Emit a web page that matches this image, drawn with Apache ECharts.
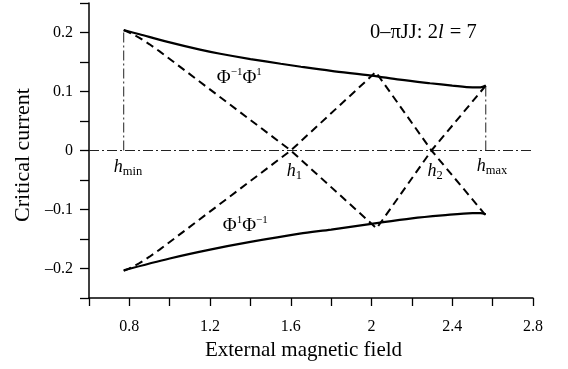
<!DOCTYPE html>
<html>
<head>
<meta charset="utf-8">
<script src="https://cdn.jsdelivr.net/npm/echarts@6/dist/echarts.min.js"></script>
<style>
  html, body { margin: 0; padding: 0; background: #fff; }
  #chart { width: 568px; height: 369px; }
</style>
</head>
<body>
<div id="chart"></div>
<script>
// Characteristic field values on the h axis
const hMin = 0.772;
const hMax = 2.566;
const h1 = 1.600;
const h2 = 2.297;

// Envelope of the critical current (solid curves)
const upperBranch = [
  [0.772, 0.204], [0.85, 0.197], [0.98, 0.185], [1.15, 0.171], [1.25, 0.164],
  [1.40, 0.155], [1.55, 0.147], [1.65, 0.142], [1.80, 0.135], [2.00, 0.127],
  [2.14, 0.120], [2.29, 0.114], [2.40, 0.110], [2.50, 0.107], [2.54, 0.107],
  [2.566, 0.110]
];
const lowerBranch = [
  [0.772, -0.203], [1.00, -0.183], [1.20, -0.168], [1.40, -0.155], [1.644, -0.141],
  [1.80, -0.134], [2.025, -0.123], [2.20, -0.115], [2.35, -0.110], [2.50, -0.106],
  [2.54, -0.106], [2.566, -0.108]
];

// Mode branches (dashed): Φ^-1Φ^1 and Φ^1Φ^-1
const modeA = [
  [0.772, 0.204], [0.80, 0.200], [0.85, 0.191], [0.90, 0.180], [0.95, 0.168],
  [1.600, 0], [2.025, -0.132], [2.297, 0], [2.566, 0.110]
];
const modeB = [
  [0.772, -0.204], [0.80, -0.200], [0.85, -0.191], [0.90, -0.180], [0.95, -0.168],
  [1.600, 0], [2.021, 0.133], [2.297, 0], [2.566, -0.110]
];

// Axis ranges and ticks
const xMin = 0.6, xMax = 2.8, xStep = 0.2;
const yMin = -0.25, yMax = 0.25, yStep = 0.05;

const FONT = '"Liberation Serif", "Times New Roman", serif';
const chart = echarts.init(document.getElementById('chart'), null, { renderer: 'canvas' });

const dashDot = [10, 3, 2, 3];

chart.setOption({
  animation: false,
  backgroundColor: '#fff',
  grid: { left: 89, right: 35, top: 3, bottom: 71 },
  xAxis: {
    type: 'value', min: xMin, max: xMax, interval: xStep,
    name: 'External magnetic field', nameLocation: 'middle', nameGap: 38,
    nameTextStyle: { fontFamily: FONT, fontSize: 21, color: '#000', padding: [0, 15, 0, 0] },
    axisLine: { onZero: false, lineStyle: { color: '#000', width: 1.5 } },
    axisTick: { inside: false, length: 8, lineStyle: { color: '#000', width: 1.3 } },
    splitLine: { show: false },
    axisLabel: {
      margin: 21, fontFamily: FONT, fontSize: 16, color: '#000',
      formatter: v => (Math.round(v * 10) % 4 === 0 ? String(+v.toFixed(1)) : '')
    }
  },
  yAxis: {
    type: 'value', min: yMin, max: yMax, interval: yStep,
    name: 'Critical current', nameLocation: 'middle', nameGap: 52,
    nameTextStyle: { fontFamily: FONT, fontSize: 22, color: '#000', padding: [0, 9, 0, 0] },
    axisLine: { onZero: false, lineStyle: { color: '#000', width: 1.5 } },
    axisTick: { inside: false, length: 9, lineStyle: { color: '#000', width: 1.3 } },
    splitLine: { show: false },
    axisLabel: {
      margin: 16, fontFamily: FONT, fontSize: 16, color: '#000',
      formatter: v => {
        const t = Math.round(v * 100);
        if (t % 10 !== 0) return '';
        const s = String(Math.abs(+v.toFixed(1)));
        return v < 0 ? '\u2013' + s : s;
      }
    }
  },
  series: [
    {
      type: 'line', data: [[xMin, 0], [xMax, 0]], symbol: 'none', silent: true,
      lineStyle: { color: '#222', width: 1, type: dashDot }
    },
    {
      type: 'line', data: [[hMin, 0], [hMin, upperBranch[0][1]]], symbol: 'none', silent: true,
      lineStyle: { color: '#222', width: 1, type: dashDot }
    },
    {
      type: 'line', data: [[hMax, 0], [hMax, upperBranch[upperBranch.length - 1][1]]], symbol: 'none', silent: true,
      lineStyle: { color: '#222', width: 1, type: dashDot }
    },
    {
      type: 'line', data: modeA, symbol: 'none', smooth: false,
      lineStyle: { color: '#000', width: 2, type: [8, 5] }
    },
    {
      type: 'line', data: modeB, symbol: 'none', smooth: false,
      lineStyle: { color: '#000', width: 2, type: [8, 5] }
    },
    {
      type: 'line', data: upperBranch, symbol: 'none', smooth: 0.3,
      lineStyle: { color: '#000', width: 2.2 }
    },
    {
      type: 'line', data: lowerBranch, symbol: 'none', smooth: 0.3,
      lineStyle: { color: '#000', width: 2.2 }
    }
  ]
});

// Annotations made of normal / italic / sub- and superscript pieces
const measureCtx = document.createElement('canvas').getContext('2d');
function fontOf(p) {
  return (p.italic ? 'italic ' : '') + p.size + 'px ' + FONT;
}
function widthOf(p) {
  measureCtx.font = fontOf(p);
  return measureCtx.measureText(p.t).width;
}
function annotation(anchor, offset, pieces) {
  const px = chart.convertToPixel({ gridIndex: 0 }, anchor);
  let x = px[0] + offset[0];
  const y = px[1] + offset[1];
  return pieces.map(p => {
    const el = {
      type: 'text', silent: true, z: 10,
      x: x, y: y + (p.dy || 0),
      style: {
        text: p.t, font: fontOf(p), fill: '#000',
        textAlign: 'left', textVerticalAlign: 'middle',
        align: 'left', verticalAlign: 'middle'
      }
    };
    x += widthOf(p) + (p.gap || 0);
    return el;
  });
}

const phi = 19, sup = 11, hSize = 18, sub = 12.5;
const graphics = [].concat(
  annotation([xMax, yMax], [-163, 30], [
    { t: '0\u2013\u03c0JJ: 2', size: 20.5 },
    { t: 'l', size: 20.5, italic: true, gap: 1 },
    { t: ' = 7', size: 20.5 }
  ]),
  annotation([h1, 0], [-74, -72], [
    { t: '\u03a6', size: phi },
    { t: '\u22121', size: sup, dy: -6 },
    { t: '\u03a6', size: phi },
    { t: '1', size: sup, dy: -6 }
  ]),
  annotation([h1, 0], [-68, 76], [
    { t: '\u03a6', size: phi },
    { t: '1', size: sup, dy: -6 },
    { t: '\u03a6', size: phi },
    { t: '\u22121', size: sup, dy: -6 }
  ]),
  annotation([hMin, 0], [-10, 17], [
    { t: 'h', size: hSize, italic: true },
    { t: 'min', size: sub, dy: 4 }
  ]),
  annotation([h1, 0], [-4, 21], [
    { t: 'h', size: hSize, italic: true },
    { t: '1', size: sub, dy: 4 }
  ]),
  annotation([h2, 0], [-4, 21], [
    { t: 'h', size: hSize, italic: true },
    { t: '2', size: sub, dy: 4 }
  ]),
  annotation([hMax, 0], [-9, 16], [
    { t: 'h', size: hSize, italic: true },
    { t: 'max', size: sub, dy: 4 }
  ])
);
chart.setOption({ graphic: { elements: graphics } });
</script>
</body>
</html>
